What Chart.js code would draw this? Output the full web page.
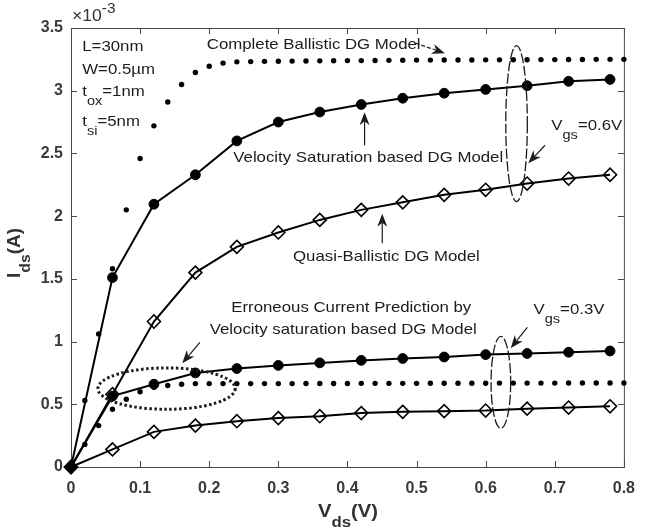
<!DOCTYPE html>
<html>
<head>
<meta charset="utf-8">
<script src="https://cdn.jsdelivr.net/npm/chart.js@4.4.1/dist/chart.umd.min.js"></script>
<style>
  html, body { margin: 0; padding: 0; background: #fff; }
  canvas { display: block; }
</style>
</head>
<body>
<canvas id="chart" width="647" height="530"></canvas>
<script>
// Ids values are in units of 1e-3 A (the axis shows x10^-3)
const vdsFine = [0, 0.02, 0.04, 0.06, 0.08, 0.1, 0.12, 0.14, 0.16, 0.18, 0.2, 0.22, 0.24, 0.26, 0.28,
  0.3, 0.32, 0.34, 0.36, 0.38, 0.4, 0.42, 0.44, 0.46, 0.48, 0.5, 0.52, 0.54, 0.56, 0.58,
  0.6, 0.62, 0.64, 0.66, 0.68, 0.7, 0.72, 0.74, 0.76, 0.78, 0.8];
const ballistic06 = [0, 0.53, 1.06, 1.58, 2.05, 2.46, 2.72, 2.91, 3.05, 3.145, 3.195, 3.22, 3.23, 3.232, 3.234,
  3.235, 3.236, 3.237, 3.238, 3.239, 3.24, 3.24, 3.241, 3.242, 3.243, 3.244, 3.244, 3.245, 3.245, 3.245,
  3.246, 3.246, 3.247, 3.247, 3.248, 3.248, 3.249, 3.249, 3.25, 3.25, 3.25];
const ballistic03 = [0, 0.18, 0.33, 0.46, 0.54, 0.6, 0.635, 0.65, 0.66, 0.665, 0.665, 0.665, 0.665, 0.665, 0.665,
  0.665, 0.665, 0.666, 0.666, 0.666, 0.666, 0.667, 0.667, 0.667, 0.667, 0.667, 0.668, 0.668, 0.668, 0.668,
  0.668, 0.669, 0.669, 0.669, 0.669, 0.669, 0.67, 0.67, 0.67, 0.67, 0.67];
const vdsCoarse = [0, 0.06, 0.12, 0.18, 0.24, 0.3, 0.36, 0.42, 0.48, 0.54, 0.6, 0.66, 0.72, 0.78];
const velSat06 = [0, 1.51, 2.095, 2.33, 2.6, 2.75, 2.83, 2.89, 2.94, 2.98, 3.01, 3.04, 3.075, 3.09];
const quasi06 = [0, 0.58, 1.16, 1.55, 1.755, 1.87, 1.97, 2.05, 2.11, 2.17, 2.21, 2.26, 2.3, 2.33];
const velSat03 = [0, 0.565, 0.66, 0.75, 0.785, 0.81, 0.83, 0.85, 0.865, 0.877, 0.896, 0.905, 0.915, 0.925];
const quasi03 = [0, 0.14, 0.28, 0.33, 0.365, 0.39, 0.405, 0.43, 0.44, 0.445, 0.45, 0.465, 0.474, 0.484];

const INK = '#1c1c1c';
const AXIS = '#4a4a4a';
const FONT = '"Liberation Sans", Arial, sans-serif';
const STRETCH = 1.12; // the source picture is a bit wider than tall

// text annotations, anchored in data units (x = Vds, y = Ids*1e3), left edge / vertical middle
const notes = [
  { parts: [['L=30nm']], x: 0.0163, y: 3.347 },
  { parts: [['W=0.5µm']], x: 0.0163, y: 3.17 },
  { parts: [['t'], ['ox', 'sub'], ['=1nm']], x: 0.0163, y: 2.99 },
  { parts: [['t'], ['si', 'sub'], ['=5nm']], x: 0.0163, y: 2.75 },
  { parts: [['Complete Ballistic DG Model']], x: 0.1965, y: 3.363 },
  { parts: [['Velocity Saturation based DG Model']], x: 0.2348, y: 2.464 },
  { parts: [['V'], ['gs', 'sub'], ['=0.6V']], x: 0.695, y: 2.717 },
  { parts: [['Quasi-Ballistic DG Model']], x: 0.3213, y: 1.672 },
  { parts: [['Erroneous Current Prediction by']], x: 0.2319, y: 1.266 },
  { parts: [['Velocity saturation based DG Model']], x: 0.2007, y: 1.09 },
  { parts: [['V'], ['gs', 'sub'], ['=0.3V']], x: 0.6692, y: 1.25 }
];
const arrows = [
  { from: [0.4986, 3.379], to: [0.541, 3.299], dash: [4, 2] },
  { from: [0.4248, 2.565], to: [0.4248, 2.829] },
  { from: [0.6858, 2.565], to: [0.6617, 2.422] },
  { from: [0.4504, 1.784], to: [0.4504, 2.02] },
  { from: [0.1865, 0.994], to: [0.161, 0.827] },
  { from: [0.6603, 1.114], to: [0.6362, 0.947] }
];
const ellipses = [
  { x: 0.6447, y: 2.738, rx: 0.0156, ry: 0.622, dash: [10, 2.5], lw: 1.3 },
  { x: 0.622, y: 0.675, rx: 0.0142, ry: 0.367, dash: [10, 2.5], lw: 1.3 },
  { x: 0.1383, y: 0.625, rx: 0.0993, ry: 0.165, dash: [2.5, 2.5], lw: 3 }
];

function pairs(xs, ys) {
  return xs.map((x, i) => ({ x: x, y: ys[i] }));
}

function richText(ctx, parts, x, y, size, opts = {}) {
  const sx = opts.stretch || STRETCH;
  const weight = opts.bold ? 'bold ' : '';
  const fontFor = k => weight + (k ? Math.round(size * 0.86) : size) + 'px ' + FONT;
  ctx.save();
  ctx.translate(x, y);
  if (opts.rotate) ctx.rotate(opts.rotate);
  ctx.scale(sx, 1);
  ctx.textBaseline = 'middle';
  ctx.textAlign = 'left';
  ctx.fillStyle = opts.color || INK;
  let total = 0;
  parts.forEach(([t, k]) => { ctx.font = fontFor(k); total += ctx.measureText(t).width; });
  let cx = opts.center ? -total / 2 : 0;
  parts.forEach(([t, k]) => {
    ctx.font = fontFor(k);
    const dy = k === 'sub' ? size * 0.6 : (k === 'sup' ? -size * 0.5 : 0);
    ctx.fillText(t, cx, dy);
    cx += ctx.measureText(t).width;
  });
  ctx.restore();
}

function drawArrow(ctx, x1, y1, x2, y2, dash) {
  const a = Math.atan2(y2 - y1, x2 - x1);
  const len = 13, w = 5;
  const c = Math.cos(a), s = Math.sin(a);
  ctx.save();
  ctx.strokeStyle = INK;
  ctx.fillStyle = INK;
  ctx.lineWidth = 1.2;
  ctx.setLineDash(dash || []);
  ctx.beginPath();
  ctx.moveTo(x1, y1);
  ctx.lineTo(x2 - c * len * 0.7, y2 - s * len * 0.7);
  ctx.stroke();
  ctx.setLineDash([]);
  ctx.beginPath();
  ctx.moveTo(x2, y2);
  ctx.lineTo(x2 - c * len + s * w, y2 - s * len - c * w);
  ctx.lineTo(x2 - c * len * 0.7, y2 - s * len * 0.7);
  ctx.lineTo(x2 - c * len - s * w, y2 - s * len + c * w);
  ctx.closePath();
  ctx.fill();
  ctx.restore();
}

// box around the plot with inward ticks on all four sides
const frame = {
  id: 'frame',
  beforeDatasetsDraw(chart) {
    const { ctx, chartArea: a, scales: { x, y } } = chart;
    const t = 6;
    ctx.save();
    ctx.strokeStyle = AXIS;
    ctx.lineWidth = 1;
    ctx.strokeRect(a.left + 0.5, a.top + 0.5, a.right - a.left, a.bottom - a.top);
    ctx.beginPath();
    x.ticks.forEach(k => {
      const p = Math.round(x.getPixelForValue(k.value)) + 0.5;
      ctx.moveTo(p, a.bottom); ctx.lineTo(p, a.bottom - t);
      ctx.moveTo(p, a.top); ctx.lineTo(p, a.top + t);
    });
    y.ticks.forEach(k => {
      const p = Math.round(y.getPixelForValue(k.value)) + 0.5;
      ctx.moveTo(a.left, p); ctx.lineTo(a.left + t, p);
      ctx.moveTo(a.right, p); ctx.lineTo(a.right - t, p);
    });
    ctx.stroke();
    ctx.restore();
  }
};

const annotate = {
  id: 'annotate',
  afterDatasetsDraw(chart) {
    const { ctx, chartArea: a, scales: { x, y } } = chart;
    const px = v => x.getPixelForValue(v);
    const py = v => y.getPixelForValue(v);

    notes.forEach(n => richText(ctx, n.parts, px(n.x), py(n.y), 15));
    arrows.forEach(r => drawArrow(ctx, px(r.from[0]), py(r.from[1]), px(r.to[0]), py(r.to[1]), r.dash));

    ellipses.forEach(e => {
      ctx.save();
      ctx.strokeStyle = INK;
      ctx.lineWidth = e.lw;
      ctx.setLineDash(e.dash);
      ctx.beginPath();
      ctx.ellipse(px(e.x), py(e.y), px(e.x + e.rx) - px(e.x), py(e.y) - py(e.y + e.ry), 0, 0, Math.PI * 2);
      ctx.stroke();
      ctx.restore();
    });

    // exponent above the y axis
    richText(ctx, [['×10'], ['-3', 'sup']], a.left + 1, a.top - 11, 16, { color: '#333', stretch: 1.1 });
    // axis titles
    richText(ctx, [['V'], ['ds', 'sub'], ['(V)']], (a.left + a.right) / 2 + 0.5, 512, 18,
      { bold: true, center: true, stretch: 1.12, color: '#333' });
    richText(ctx, [['I'], ['ds', 'sub'], ['(A)']], 15, 253, 18,
      { bold: true, center: true, stretch: 1.05, rotate: -Math.PI / 2, color: '#333' });
  }
};

const lineStyle = { showLine: true, borderColor: '#000', borderWidth: 2, tension: 0, clip: false };

new Chart(document.getElementById('chart'), {
  type: 'scatter',
  data: {
    datasets: [
      { data: pairs(vdsFine, ballistic06), showLine: false, pointRadius: 2.7, pointBackgroundColor: '#000',
        pointBorderWidth: 0, clip: false },
      { data: pairs(vdsFine, ballistic03), showLine: false, pointRadius: 2.7, pointBackgroundColor: '#000',
        pointBorderWidth: 0, clip: false },
      Object.assign({ data: pairs(vdsCoarse, velSat06), pointStyle: 'circle', pointRadius: 4.9,
        pointBackgroundColor: '#000', pointBorderColor: '#000', pointBorderWidth: 1 }, lineStyle),
      Object.assign({ data: pairs(vdsCoarse, velSat03), pointStyle: 'circle', pointRadius: 4.9,
        pointBackgroundColor: '#000', pointBorderColor: '#000', pointBorderWidth: 1 }, lineStyle),
      Object.assign({ data: pairs(vdsCoarse, quasi06), pointStyle: 'rectRot', pointRadius: 6.5,
        pointBackgroundColor: 'rgba(255,255,255,0)', pointBorderColor: '#000', pointBorderWidth: 1.6 }, lineStyle),
      Object.assign({ data: pairs(vdsCoarse, quasi03), pointStyle: 'rectRot', pointRadius: 6.5,
        pointBackgroundColor: 'rgba(255,255,255,0)', pointBorderColor: '#000', pointBorderWidth: 1.6 }, lineStyle)
    ]
  },
  options: {
    responsive: false,
    animation: false,
    events: [],
    layout: { padding: { top: 28, right: 12, left: 0, bottom: 0 } },
    plugins: { legend: { display: false }, tooltip: { enabled: false } },
    scales: {
      x: {
        type: 'linear', min: 0, max: 0.8,
        grid: { display: false, drawTicks: false },
        border: { display: false },
        ticks: {
          stepSize: 0.1, padding: 12, color: '#3a3a3a',
          font: { family: FONT, size: 16, weight: 'bold' },
          maxRotation: 0,
          callback: v => String(+v.toFixed(1))
        },
        afterFit: s => { s.height = 63; }
      },
      y: {
        min: 0, max: 3.5,
        grid: { display: false, drawTicks: false },
        border: { display: false },
        ticks: {
          stepSize: 0.5, padding: 8, color: '#3a3a3a',
          font: { family: FONT, size: 16, weight: 'bold' },
          callback: v => String(+v.toFixed(1))
        },
        afterFit: s => { s.width = 71; }
      }
    }
  },
  plugins: [frame, annotate]
});
</script>
</body>
</html>
